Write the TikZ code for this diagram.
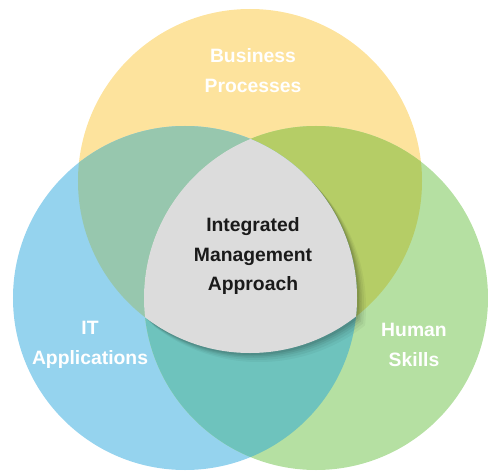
\documentclass[tikz,border=0pt]{standalone}
\usepackage{fontspec}
\setsansfont{Liberation Sans}
\usetikzlibrary{calc}
\definecolor{vnyellow}{HTML}{FDE39D}
\definecolor{vnblue}{HTML}{95D3EE}
\definecolor{vngreen}{HTML}{B5E0A2}
\definecolor{vnyb}{HTML}{97C7AE}
\definecolor{vnyg}{HTML}{B5CD66}
\definecolor{vnbg}{HTML}{6EC3BD}
\definecolor{vncore}{HTML}{DCDCDC}
\definecolor{vnblack}{HTML}{1A1A1A}
\tikzset{
  lbl/.style  = {font=\fontsize{11}{17}\selectfont\sffamily\bfseries,
                 text=white, align=center, inner sep=1pt},
  core/.style = {lbl, text=vnblack},
}
\newcommand{\vnrad}{3.44cm}

\begin{document}
\begin{tikzpicture}[x=0.2mm,y=0.2mm]
  \useasboundingbox (0,0) rectangle (488,472);
  \coordinate (bp) at (250,291);
  \coordinate (it) at (185,174);
  \coordinate (hs) at (316,174);
  % the three sets
  \fill[vnyellow] (bp) circle[radius=\vnrad];
  \fill[vnblue] (it) circle[radius=\vnrad];
  \fill[vngreen] (hs) circle[radius=\vnrad];
  % pairwise overlaps
  \begin{scope}
    \clip (bp) circle[radius=\vnrad];
    \fill[vnyb] (it) circle[radius=\vnrad];
    \fill[vnyg] (hs) circle[radius=\vnrad];
  \end{scope}
  \begin{scope}
    \clip (it) circle[radius=\vnrad];
    \fill[vnbg] (hs) circle[radius=\vnrad];
  \end{scope}
  % soft shadow under the core
  \foreach \d/\o in {9/0.04,7/0.05,5/0.06,3.5/0.07,2/0.08} {
    \begin{scope}
      \clip ($(bp)+(\d,-\d)$) circle[radius=\vnrad];
      \clip ($(it)+(\d,-\d)$) circle[radius=\vnrad];
      \fill[black, opacity=\o] ($(hs)+(\d,-\d)$) circle[radius=\vnrad];
    \end{scope}
  }
  % the core
  \begin{scope}
    \clip (bp) circle[radius=\vnrad];
    \clip (it) circle[radius=\vnrad];
    \fill[vncore] (hs) circle[radius=\vnrad];
  \end{scope}
  \node[lbl] (bplbl) at (253,401) {Business\\Processes};
  \node[lbl] (itlbl) at (90,127) {IT\\Applications};
  \node[lbl] (hslbl) at (414,127) {Human\\Skills};
  \node[core] (corelbl) at (253,216) {Integrated\\Management\\Approach};
\end{tikzpicture}
\end{document}
